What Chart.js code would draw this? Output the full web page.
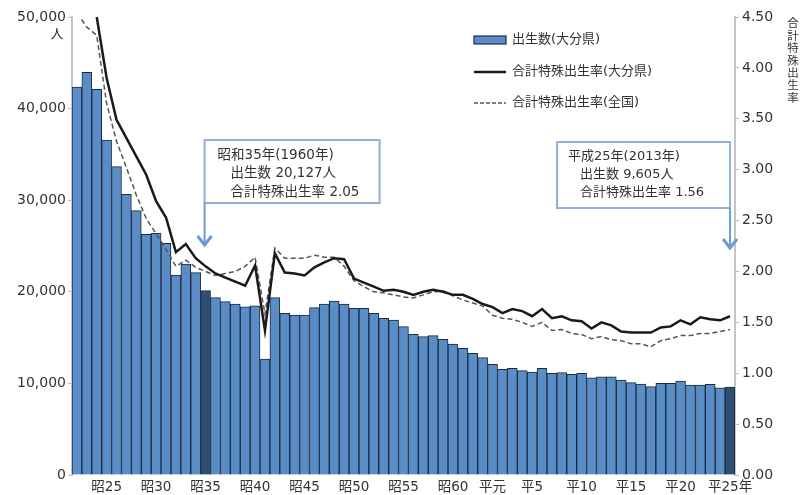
<!DOCTYPE html>
<html lang="ja">
<head>
<meta charset="utf-8">
<title>出生数と合計特殊出生率の推移(大分県)</title>
<script src="https://cdn.jsdelivr.net/npm/chart.js@4.4.1/dist/chart.umd.min.js"></script>
<style>
  html, body { margin: 0; padding: 0; background: #fff; overflow: hidden; }
  #wrap { width: 805px; height: 495px; position: relative; }
</style>
</head>
<body>
<div id="wrap"><canvas id="grafik"></canvas></div>
<script>
// 年 (昭和22年〜平成25年)
const years = [
  1947, 1948, 1949, 1950, 1951, 1952, 1953, 1954, 1955, 1956,
  1957, 1958, 1959, 1960, 1961, 1962, 1963, 1964, 1965, 1966,
  1967, 1968, 1969, 1970, 1971, 1972, 1973, 1974, 1975, 1976,
  1977, 1978, 1979, 1980, 1981, 1982, 1983, 1984, 1985, 1986,
  1987, 1988, 1989, 1990, 1991, 1992, 1993, 1994, 1995, 1996,
  1997, 1998, 1999, 2000, 2001, 2002, 2003, 2004, 2005, 2006,
  2007, 2008, 2009, 2010, 2011, 2012, 2013
];

// 出生数(大分県) 人
const births = [
  42350, 43960, 42100, 36570, 33660, 30640, 28860, 26280, 26390, 25300,
  21830, 23030, 22090, 20127, 19360, 18920, 18670, 18370, 18480, 12660,
  19360, 17650, 17470, 17470, 18270, 18670, 19000, 18670, 18190, 18190,
  17650, 17100, 16920, 16190, 15360, 15100, 15210, 14810, 14300, 13830,
  13280, 12810, 12080, 11540, 11650, 11390, 11240, 11650, 11100, 11170,
  10990, 11100, 10620, 10730, 10730, 10370, 10080, 9930, 9640, 10010,
  10010, 10260, 9820, 9820, 9900, 9530, 9605
];

// 合計特殊出生率(大分県)
const tfrOita = [
  null, null, 4.50, 3.90, 3.49, 3.31, 3.13, 2.95, 2.69, 2.53,
  2.19, 2.27, 2.13, 2.05, 1.98, 1.94, 1.90, 1.86, 2.06, 1.42,
  2.18, 1.99, 1.98, 1.96, 2.04, 2.09, 2.13, 2.12, 1.93, 1.89,
  1.85, 1.81, 1.82, 1.80, 1.77, 1.80, 1.82, 1.80, 1.77, 1.77,
  1.73, 1.68, 1.65, 1.59, 1.63, 1.61, 1.56, 1.63, 1.54, 1.56,
  1.52, 1.51, 1.44, 1.50, 1.47, 1.41, 1.40, 1.40, 1.40, 1.45,
  1.46, 1.52, 1.48, 1.55, 1.53, 1.52, 1.56
];

// 合計特殊出生率(全国)
const tfrZenkoku = [
  4.54, 4.40, 4.32, 3.65, 3.28, 3.02, 2.75, 2.52, 2.37, 2.22,
  2.05, 2.11, 2.04, 2.00, 1.96, 1.98, 2.00, 2.05, 2.14, 1.58,
  2.23, 2.13, 2.13, 2.13, 2.16, 2.14, 2.14, 2.05, 1.91, 1.85,
  1.80, 1.79, 1.77, 1.75, 1.74, 1.77, 1.80, 1.81, 1.76, 1.72,
  1.69, 1.66, 1.57, 1.54, 1.53, 1.50, 1.46, 1.50, 1.42, 1.43,
  1.39, 1.38, 1.34, 1.36, 1.33, 1.32, 1.29, 1.29, 1.26, 1.32,
  1.34, 1.37, 1.37, 1.39, 1.39, 1.41, 1.43
];

// 目盛ラベル(横軸)
const tickYears = [1950, 1955, 1960, 1965, 1970, 1975, 1980, 1985, 1989, 1993, 1998, 2003, 2008, 2013];
const tickNames = ["昭25", "昭30", "昭35", "昭40", "昭45", "昭50", "昭55", "昭60", "平元", "平5", "平10", "平15", "平20", "平25年"];

// 強調する年と注記
const highlightYears = [1960, 2013];
const note1960 = ["昭和35年(1960年)", "出生数 20,127人", "合計特殊出生率 2.05"];
const note2013 = ["平成25年(2013年)", "出生数 9,605人", "合計特殊出生率 1.56"];

const rightTitle = "合計特殊出生率";

const FONT = '"DejaVu Sans", "Noto Sans CJK JP", sans-serif';
const BIRU = "#5a8dc6";
const BIRU_TUA = "#2f4e74";
const GARIS_BAR = "#1b2b42";

const warnaBar = years.map(y => highlightYears.includes(y) ? BIRU_TUA : BIRU);

// 注記・凡例などを描くプラグイン
const hiasan = {
  id: "hiasan",
  afterDraw(chart) {
    const ctx = chart.ctx;
    const sx = chart.scales.x;
    ctx.save();
    ctx.fillStyle = "#333";
    ctx.textBaseline = "middle";

    // 単位「人」
    ctx.font = '13px "Noto Sans CJK JP"';
    ctx.textAlign = "center";
    ctx.fillText("人", 57, 33);

    // 右軸タイトル(縦書き)
    ctx.font = '11.5px "Noto Sans CJK JP"';
    for (let i = 0; i < rightTitle.length; i++) {
      ctx.fillText(rightTitle[i], 793, 23 + i * 12.4);
    }

    // 凡例
    const ds = chart.data.datasets;
    const lx = 474, lw = 32, tx = 512;
    ctx.textAlign = "left";
    ctx.font = "13px " + FONT;
    // 出生数
    ctx.fillStyle = BIRU;
    ctx.fillRect(lx, 36, lw, 8);
    ctx.strokeStyle = GARIS_BAR;
    ctx.lineWidth = 1.2;
    ctx.strokeRect(lx, 36, lw, 8);
    ctx.fillStyle = "#333";
    ctx.fillText(ds[0].label, tx, 40);
    // 大分県 率
    ctx.strokeStyle = "#1a1a1a";
    ctx.lineWidth = 2.5;
    ctx.beginPath(); ctx.moveTo(lx, 72); ctx.lineTo(lx + lw, 72); ctx.stroke();
    ctx.fillText(ds[1].label, tx, 72);
    // 全国 率
    ctx.strokeStyle = "#555";
    ctx.lineWidth = 1.5;
    ctx.setLineDash([4, 2]);
    ctx.beginPath(); ctx.moveTo(lx, 103); ctx.lineTo(lx + lw, 103); ctx.stroke();
    ctx.setLineDash([]);
    ctx.fillText(ds[2].label, tx, 103);

    // 注記ボックスと矢印
    const gambarNote = (teks, ax, kiri, atas, lebar, tinggi, ujung, ukuran, pad1, pad2, baris) => {
      ctx.fillStyle = "#fff";
      ctx.fillRect(kiri, atas, lebar, tinggi);
      ctx.strokeStyle = "#8eb0da";
      ctx.lineWidth = 2;
      ctx.strokeRect(kiri, atas, lebar, tinggi);
      ctx.fillStyle = "#333";
      ctx.font = ukuran + "px " + FONT;
      ctx.fillText(teks[0], kiri + pad1, atas + baris[0]);
      ctx.fillText(teks[1], kiri + pad2, atas + baris[1]);
      ctx.fillText(teks[2], kiri + pad2, atas + baris[2]);
      // 矢印
      ctx.strokeStyle = "#6b9bd3";
      ctx.lineWidth = 2;
      ctx.beginPath();
      ctx.moveTo(ax, atas + tinggi);
      ctx.lineTo(ax, ujung - 1);
      ctx.stroke();
      ctx.lineWidth = 3;
      ctx.beginPath();
      ctx.moveTo(ax - 7, ujung - 9);
      ctx.lineTo(ax, ujung);
      ctx.lineTo(ax + 7, ujung - 9);
      ctx.stroke();
    };
    const ax1 = sx.getPixelForValue(years.indexOf(1960));
    const ax2 = sx.getPixelForValue(years.indexOf(2013));
    gambarNote(note1960, ax1 - 1, ax1 - 1, 140, 175, 63, 245, 13.5, 13, 26, [15, 33.5, 52]);
    gambarNote(note2013, ax2, ax2 - 173, 142, 173, 66, 248, 13, 11, 23, [14.5, 32.5, 51]);

    ctx.restore();
  }
};

const ctx = document.getElementById("grafik").getContext("2d");
new Chart(ctx, {
  type: "bar",
  data: {
    labels: years,
    datasets: [
      {
        type: "bar",
        label: "出生数(大分県)",
        data: births,
        yAxisID: "y",
        backgroundColor: warnaBar,
        borderColor: GARIS_BAR,
        borderWidth: { top: 1, left: 1, right: 1, bottom: 0 },
        borderSkipped: "bottom",
        barPercentage: 1,
        categoryPercentage: 1,
        order: 3
      },
      {
        type: "line",
        label: "合計特殊出生率(大分県)",
        data: tfrOita,
        yAxisID: "y1",
        borderColor: "#1a1a1a",
        borderWidth: 2.5,
        pointRadius: 0,
        tension: 0,
        spanGaps: false,
        order: 1
      },
      {
        type: "line",
        label: "合計特殊出生率(全国)",
        data: tfrZenkoku,
        yAxisID: "y1",
        borderColor: "#555",
        borderWidth: 1.5,
        borderDash: [5, 3],
        pointRadius: 0,
        tension: 0,
        order: 2
      }
    ]
  },
  options: {
    responsive: true,
    maintainAspectRatio: false,
    animation: false,
    layout: { padding: { top: 17, left: 0, right: 0, bottom: 0 } },
    plugins: {
      legend: { display: false },
      tooltip: { enabled: false }
    },
    scales: {
      x: {
        grid: { display: false, drawTicks: false, tickLength: 0 },
        border: { display: false },
        ticks: {
          autoSkip: false,
          maxRotation: 0,
          minRotation: 0,
          padding: 4,
          color: "#333",
          font: { family: FONT, size: 13.5 },
          callback: function (value, index) {
            const k = tickYears.indexOf(years[index]);
            return k >= 0 ? tickNames[k] : "";
          }
        },
        afterFit: function (scale) { scale.height = 20; }
      },
      y: {
        position: "left",
        min: 0,
        max: 50000,
        grid: { drawOnChartArea: false, drawTicks: true, tickLength: 4, color: "#bbb" },
        border: { color: "#c4c4c4", width: 2 },
        ticks: {
          stepSize: 10000,
          padding: 2,
          color: "#333",
          font: { family: FONT, size: 14 },
          callback: function (value) {
            return value.toLocaleString("en-US");
          }
        },
        afterFit: function (scale) { scale.width = 72; }
      },
      y1: {
        position: "right",
        min: 0,
        max: 4.5,
        grid: { drawOnChartArea: false, drawTicks: true, tickLength: 4, color: "#bbb" },
        border: { color: "#c4c4c4", width: 2 },
        ticks: {
          stepSize: 0.5,
          padding: 3,
          color: "#333",
          font: { family: FONT, size: 14 },
          callback: function (value) {
            return Number(value).toFixed(2);
          }
        },
        afterFit: function (scale) { scale.width = 70; }
      }
    }
  },
  plugins: [hiasan]
});
</script>
</body>
</html>
